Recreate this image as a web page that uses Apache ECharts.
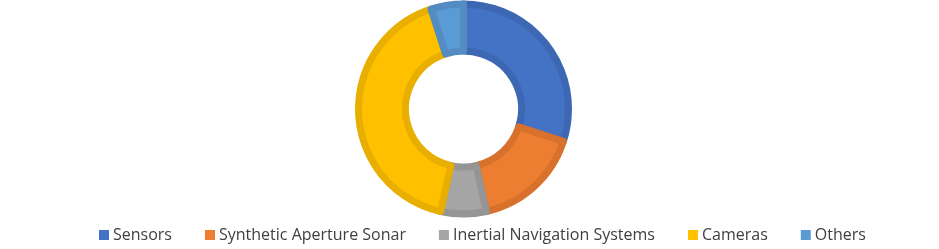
<!DOCTYPE html>
<html><head><meta charset="utf-8">
<script src="https://cdn.jsdelivr.net/npm/echarts@6/dist/echarts.min.js"></script>
<style>html,body{margin:0;padding:0;background:#fff}#c{width:939px;height:249px}</style>
</head><body><div id="c"></div>
<script>
const categories = ["Sensors", "Synthetic Aperture Sonar", "Inertial Navigation Systems", "Cameras", "Others"];
const values = [30, 16.5, 7, 41.5, 5];
const fillColors = ["#4472C4", "#ED7D31", "#A5A5A5", "#FFC000", "#5B9BD5"];
const edgeColors = ["#3D67B2", "#D8712C", "#959595", "#E8AF00", "#528CC2"];

const chart = echarts.init(document.getElementById('c'), null, {renderer: 'canvas'});
chart.setOption({
  animation: false,
  legend: {
    top: 227,
    left: 99,
    padding: 0,
    itemWidth: 10,
    itemHeight: 10,
    itemGap: 33,
    icon: 'rect',
    itemStyle: {borderWidth: 0},
    textStyle: {fontFamily: 'Open Sans', fontSize: 16, lineHeight: 16, color: '#404040', padding: [0, 0, 0, -1]},
    data: categories
  },
  series: [{
    type: 'pie',
    center: [463.5, 109],
    radius: [58, 105],
    startAngle: 90,
    clockwise: true,
    label: {show: false},
    labelLine: {show: false},
    emphasis: {disabled: true},
    data: categories.map((name, i) => ({
      name, value: values[i],
      itemStyle: {color: fillColors[i], borderColor: edgeColors[i], borderWidth: 7}
    }))
  }]
});
</script></body></html>
